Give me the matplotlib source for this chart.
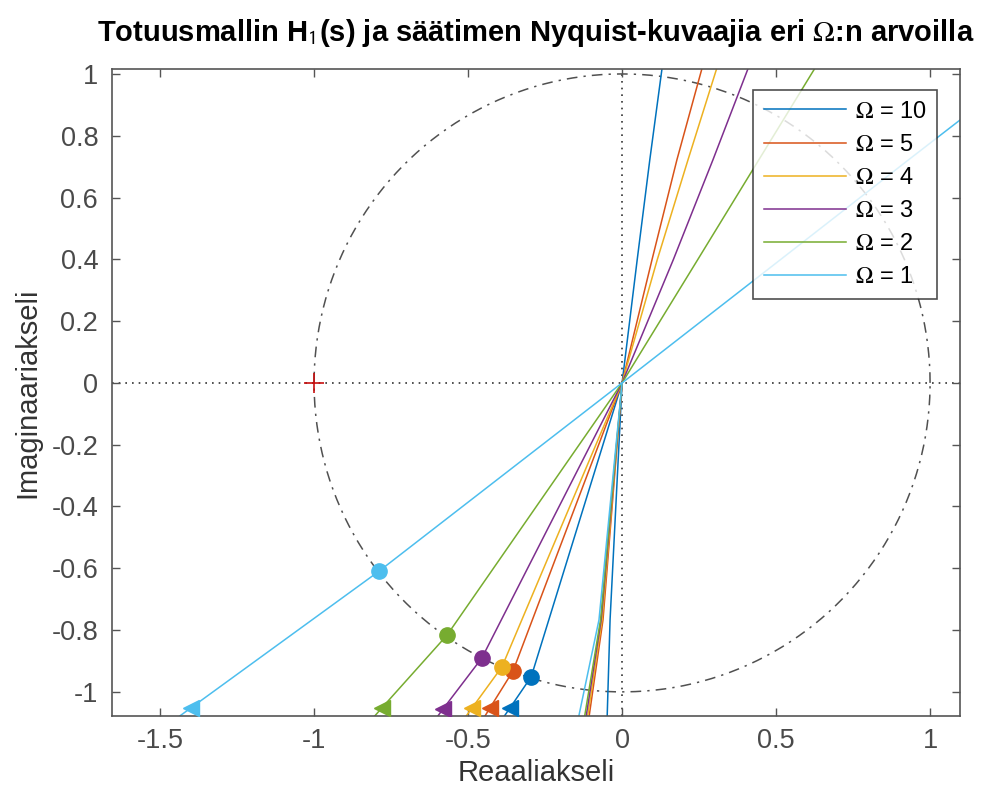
import matplotlib.pyplot as plt
import numpy as np

plt.rcParams['font.family'] = ['Liberation Sans', 'DejaVu Sans']
plt.rcParams['mathtext.fontset'] = 'stix'

# Omega values and MATLAB default colours
omegas = [10, 5, 4, 3, 2, 1]
colors = ['#0072BD', '#D95319', '#EDB120', '#7E2F8E', '#77AC30', '#4DBEEE']

# lower-left branch: origin -> circle (unit circle crossing) -> arrow -> bottom edge
low_re = [[0, -0.295, -0.364, -0.382],
          [0, -0.354, -0.429, -0.445],
          [0, -0.390, -0.487, -0.506],
          [0, -0.455, -0.581, -0.598],
          [0, -0.568, -0.780, -0.803],
          [0, -0.790, -1.400, -1.436]]
low_im = [[0, -0.951, -1.052, -1.078],
          [0, -0.932, -1.052, -1.078],
          [0, -0.919, -1.052, -1.078],
          [0, -0.890, -1.055, -1.078],
          [0, -0.816, -1.052, -1.078],
          [0, -0.610, -1.052, -1.078]]

# circle markers (crossing of unit circle) and arrow markers
circ_re = [-0.295, -0.354, -0.390, -0.455, -0.568, -0.790]
circ_im = [-0.951, -0.932, -0.919, -0.890, -0.816, -0.610]
arrow_re = [-0.364, -0.429, -0.487, -0.581, -0.780, -1.400]
arrow_im = [-1.052, -1.052, -1.052, -1.055, -1.052, -1.052]

# steep branch from origin down to bottom edge
steep_re = [[0, -0.039, -0.049],
            [0, -0.062, -0.110],
            [0, -0.065, -0.115],
            [0, -0.068, -0.120],
            [0, -0.070, -0.125],
            [0, -0.075, -0.145]]
steep_im = [[0, -0.767, -1.10],
            [0, -0.767, -1.10],
            [0, -0.767, -1.10],
            [0, -0.767, -1.10],
            [0, -0.767, -1.10],
            [0, -0.767, -1.10]]

# upper branch from origin to top / right edge
up_re = [[0, 0.049, 0.090, 0.130],
         [0, 0.097, 0.178, 0.260],
         [0, 0.114, 0.214, 0.308],
         [0, 0.166, 0.295, 0.410],
         [0, 0.245, 0.444, 0.627],
         [0, 0.513, 0.930, 1.100]]
up_im = [[0, 0.398, 0.722, 1.02],
         [0, 0.398, 0.722, 1.02],
         [0, 0.398, 0.722, 1.02],
         [0, 0.398, 0.722, 1.02],
         [0, 0.398, 0.722, 1.02],
         [0, 0.398, 0.722, 0.853]]

fig = plt.figure(figsize=(9.87, 7.95), dpi=100)
ax = fig.add_axes([0.1135, 0.0994, 0.8591, 0.8142])

# unit circle
t = np.linspace(0, 2 * np.pi, 400)
ax.plot(np.cos(t), np.sin(t), color='#505050', linestyle=(0, (7, 4, 1.5, 4)), lw=1.1, zorder=1)

# axis lines through origin
ax.axhline(0, color='#333333', linestyle=(0, (1, 3)), lw=1.2, zorder=1)
ax.axvline(0, color='#333333', linestyle=(0, (1, 3)), lw=1.2, zorder=1)

# -1 point
ax.plot(-1, 0, marker='+', color='#C81010', markersize=14, mew=1.2, zorder=5)

handles = []
for i, w in enumerate(omegas):
    c = colors[i]
    h, = ax.plot(up_re[i], up_im[i], color=c, lw=1.1, label=rf'$\Omega$ = {w}')
    ax.plot(low_re[i], low_im[i], color=c, lw=1.1)
    ax.plot(steep_re[i], steep_im[i], color=c, lw=1.1)
    ax.plot(circ_re[i], circ_im[i], 'o', color=c, markersize=11, zorder=4)
    ax.plot(arrow_re[i], arrow_im[i], '<', color=c, markersize=11, zorder=4)
    handles.append(h)

ax.set_xlim(-1.656, 1.097)
ax.set_ylim(-1.078, 1.017)

ax.set_xticks([-1.5, -1, -0.5, 0, 0.5, 1])
ax.set_xticklabels(['-1.5', '-1', '-0.5', '0', '0.5', '1'])
yt = np.round(np.arange(-1, 1.01, 0.2), 1)
ax.set_yticks(yt)
ax.set_yticklabels(['-1', '-0.8', '-0.6', '-0.4', '-0.2', '0', '0.2', '0.4', '0.6', '0.8', '1'])

ax.tick_params(direction='in', top=True, right=True, length=6, width=1,
               colors='#555555', labelsize=19.5, labelcolor='#4a4a4a')
ax.tick_params(axis='y', pad=10)
ax.tick_params(axis='x', pad=9)
for s in ax.spines.values():
    s.set_color('#555555')
    s.set_linewidth(1.2)

ax.set_xlabel('Reaaliakseli', fontsize=21, color='#333333', labelpad=3)
ax.set_ylabel('Imaginaariakseli', fontsize=21, color='#333333', labelpad=7)
ax.set_title(r'Totuusmallin H$_\mathsf{1}$(s) ja säätimen Nyquist-kuvaajia eri $\Omega$:n arvoilla',
             fontsize=21, fontweight='bold', pad=20)

leg = ax.legend(handles=handles, loc='upper right', bbox_to_anchor=(0.973, 0.967),
                borderaxespad=0, fontsize=17, frameon=True, fancybox=False,
                edgecolor='#222222', handlelength=3.5, handletextpad=0.35,
                labelspacing=0.47, borderpad=0.45)
leg.get_frame().set_linewidth(1.2)

fig.savefig('out.png', dpi=100)
